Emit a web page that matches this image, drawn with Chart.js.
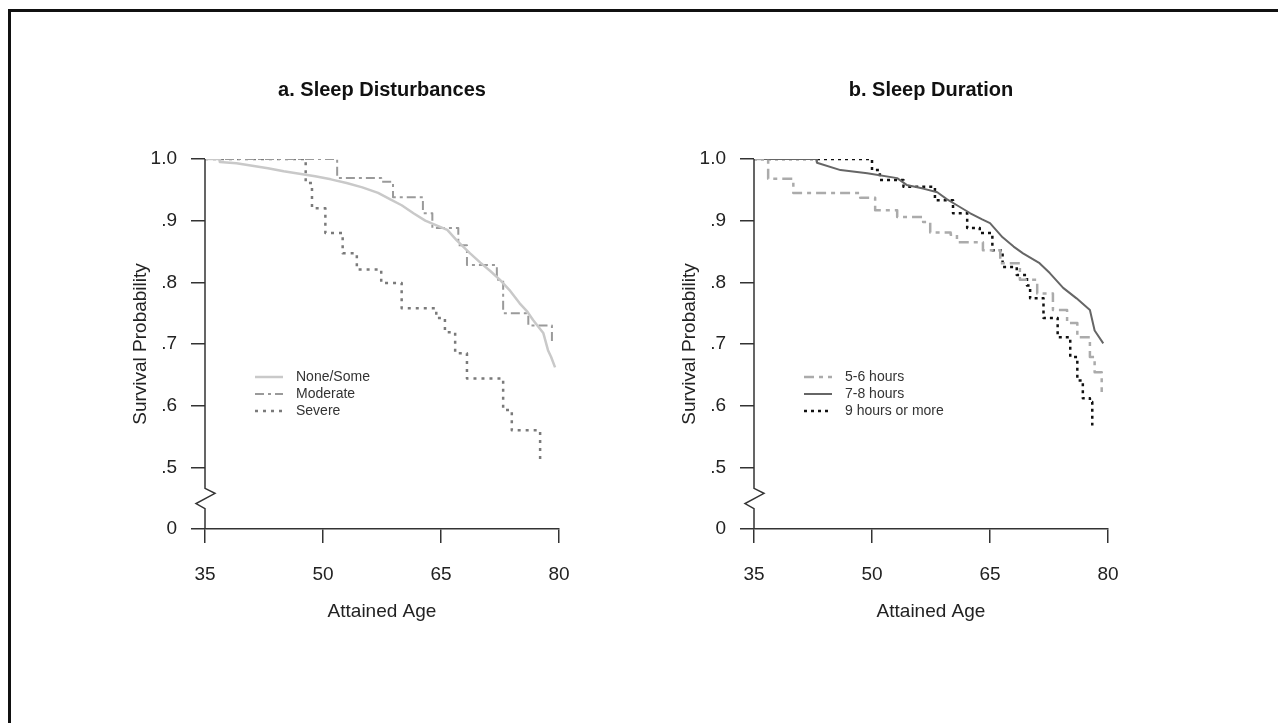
<!DOCTYPE html>
<html>
<head>
<meta charset="utf-8">
<title>Survival by sleep disturbances and sleep duration</title>
<script src="https://cdn.jsdelivr.net/npm/chart.js"></script>
<style>
  html, body { margin: 0; padding: 0; background: #fff; }
  body { width: 1278px; height: 723px; position: relative; overflow: hidden; }
  #frame { position: absolute; left: 8px; top: 9px; right: -5px; bottom: -5px;
           border-left: 3px solid #111; border-top: 3px solid #111; }
  canvas { position: absolute; top: 0; }
  #panelA { left: 0; }
  #panelB { left: 549px; }
</style>
</head>
<body>
<div id="frame"></div>
<canvas id="panelA" width="620" height="723"></canvas>
<canvas id="panelB" width="620" height="723"></canvas>
<script>
// axis ticks
const xTicks = [35, 50, 65, 80]
const yTickValues = [0.4, 0.5, 0.6, 0.7, 0.8, 0.9, 1.0]
const yTickLabels = ['0', '.5', '.6', '.7', '.8', '.9', '1.0']
// the axis is broken between .5 and 0 (0 sits where .4 would be)
const breakFrom = 0.466
const breakTo = 0.433

// a. Sleep Disturbances
const noneSomeAge = [35, 36.8, 36.9, 39, 41, 43, 45, 47, 49, 51, 53, 55, 57, 58.5, 60, 61.5, 63, 64.5, 65.8, 67, 68.7, 70, 71.3, 72.5, 73.8, 75, 76, 76.7, 78, 78.6, 79, 79.5]
const noneSomeSurv = [1.0, 1.0, 0.995, 0.993, 0.989, 0.985, 0.98, 0.976, 0.972, 0.967, 0.961, 0.954, 0.945, 0.935, 0.925, 0.912, 0.9, 0.892, 0.885, 0.868, 0.847, 0.832, 0.818, 0.804, 0.786, 0.766, 0.752, 0.739, 0.718, 0.69, 0.679, 0.662]
const moderateAge = [35, 51.8, 57.4, 58.9, 62.7, 63.9, 67.2, 68.3, 72.1, 72.9, 76.1, 79.1]
const moderateSurv = [1.0, 0.969, 0.963, 0.938, 0.912, 0.888, 0.86, 0.828, 0.804, 0.75, 0.73, 0.7]
const severeAge = [35, 47.8, 48.6, 50.3, 52.5, 54.3, 57.4, 60.0, 64.4, 65.5, 66.8, 68.3, 72.9, 74.0, 77.6]
const severeSurv = [1.0, 0.961, 0.92, 0.88, 0.847, 0.821, 0.799, 0.758, 0.742, 0.719, 0.685, 0.644, 0.593, 0.56, 0.511]

// b. Sleep Duration
const h56Age = [35, 36.8, 40.0, 48.5, 50.4, 53.2, 56.5, 57.4, 60.0, 60.8, 64.1, 66.3, 68.8, 71.0, 73.0, 74.8, 76.1, 77.7, 78.3, 79.2]
const h56Surv = [1.0, 0.968, 0.945, 0.937, 0.917, 0.906, 0.898, 0.881, 0.877, 0.865, 0.852, 0.831, 0.804, 0.782, 0.755, 0.734, 0.711, 0.679, 0.654, 0.622]
const h78Age = [35, 42.9, 43.0, 46.0, 49.4, 53.2, 54.4, 56.5, 58.3, 59.5, 60.8, 62.5, 64.0, 65.0, 66.6, 68.0, 69.2, 71.3, 72.6, 74.3, 76.0, 77.7, 78.3, 79.4]
const h78Surv = [1.0, 1.0, 0.994, 0.982, 0.977, 0.969, 0.958, 0.952, 0.946, 0.935, 0.925, 0.912, 0.902, 0.896, 0.873, 0.858, 0.847, 0.831, 0.815, 0.791, 0.774, 0.755, 0.722, 0.701]
const h9Age = [35, 50.0, 51.0, 54.0, 58.0, 60.3, 62.1, 63.7, 65.3, 66.6, 68.4, 69.7, 70.1, 71.8, 73.6, 75.2, 76.1, 76.8, 77.7, 78.0]
const h9Surv = [1.0, 0.982, 0.966, 0.955, 0.933, 0.912, 0.888, 0.88, 0.852, 0.825, 0.812, 0.795, 0.774, 0.742, 0.711, 0.679, 0.641, 0.612, 0.606, 0.568]

const axisColor = '#333'
const textColor = '#222'
Chart.defaults.font.family = "'Liberation Sans', Arial, sans-serif"
Chart.defaults.color = textColor

const pts = (ages, surv) => ages.map((a, i) => ({ x: a, y: surv[i] }))

// big groups have so many tiny steps they read as a smooth curve
const series = (label, ages, surv, color, width, dash, stepped = true) => ({
  label,
  data: pts(ages, surv),
  borderColor: color,
  borderWidth: width,
  borderDash: dash,
  borderJoinStyle: 'round',
  stepped,
  tension: 0,
  pointRadius: 0,
  fill: false,
})

// y axis line with the zigzag break
const axisBreak = {
  id: 'axisBreak',
  afterDraw(chart) {
    const { ctx, chartArea: a, scales: { y } } = chart
    const top = y.getPixelForValue(y.max)
    const bot = y.getPixelForValue(y.min)
    const b1 = y.getPixelForValue(breakFrom)
    const b2 = y.getPixelForValue(breakTo)
    const h = b2 - b1
    ctx.save()
    ctx.strokeStyle = axisColor
    ctx.lineWidth = 1.5
    ctx.beginPath()
    ctx.moveTo(a.left, top)
    ctx.lineTo(a.left, b1)
    ctx.lineTo(a.left + 10, b1 + h * 0.25)
    ctx.lineTo(a.left - 9, b1 + h * 0.75)
    ctx.lineTo(a.left, b2)
    ctx.lineTo(a.left, bot)
    ctx.stroke()
    ctx.restore()
  }
}

// legend drawn inside the plot, like the original
const innerLegend = {
  id: 'innerLegend',
  afterDraw(chart) {
    const { ctx, chartArea: a } = chart
    const left = a.left + 50
    let yy = a.top + 218
    ctx.save()
    ctx.font = "14px 'Liberation Sans', Arial, sans-serif"
    ctx.textBaseline = 'middle'
    chart.data.datasets.forEach((ds) => {
      ctx.strokeStyle = ds.borderColor
      ctx.lineWidth = ds.borderWidth
      ctx.setLineDash(ds.borderDash || [])
      ctx.beginPath()
      ctx.moveTo(left, yy)
      ctx.lineTo(left + 28, yy)
      ctx.stroke()
      ctx.setLineDash([])
      ctx.fillStyle = '#333'
      ctx.fillText(ds.label, left + 41, yy)
      yy += 17
    })
    ctx.restore()
  }
}

function makeChart(id, title, datasets) {
  return new Chart(document.getElementById(id), {
    type: 'line',
    data: { datasets },
    plugins: [axisBreak, innerLegend],
    options: {
      responsive: false,
      animation: false,
      layout: { padding: { left: 125, right: 61, top: 0, bottom: 95.6 } },
      plugins: {
        legend: { display: false },
        tooltip: { enabled: false },
        title: {
          display: true,
          text: title,
          fullSize: false,
          color: '#111',
          font: { size: 20, weight: 'bold' },
          padding: { top: 78, bottom: 57 },
        },
      },
      scales: {
        x: {
          type: 'linear',
          min: 35,
          max: 80,
          afterFit: (s) => { s.height = 98.4 },
          afterBuildTicks: (s) => { s.ticks = xTicks.map((v) => ({ value: v })) },
          border: { display: true, color: axisColor, width: 1.5 },
          grid: { drawOnChartArea: false, drawTicks: true, tickLength: 14, tickColor: axisColor, lineWidth: 1.5 },
          ticks: { font: { size: 19 }, padding: 20, color: textColor },
          title: { display: true, text: 'Attained Age', font: { size: 19 }, color: textColor },
        },
        y: {
          type: 'linear',
          min: 0.4,
          max: 1.0,
          afterFit: (s) => { s.width = 80 },
          afterBuildTicks: (s) => { s.ticks = yTickValues.map((v) => ({ value: v })) },
          border: { display: false },
          grid: { drawOnChartArea: false, drawTicks: true, tickLength: 14, tickColor: axisColor, lineWidth: 1.5 },
          ticks: {
            font: { size: 19 },
            padding: 14,
            color: textColor,
            callback: (v) => yTickLabels[yTickValues.findIndex((t) => Math.abs(t - v) < 1e-6)],
          },
          title: { display: true, text: 'Survival Probability', font: { size: 19 }, color: textColor },
        },
      },
    },
  })
}

makeChart('panelA', 'a. Sleep Disturbances', [
  series('None/Some', noneSomeAge, noneSomeSurv, '#c9c9c9', 2.5, [], false),
  series('Moderate', moderateAge, moderateSurv, '#9a9a9a', 2, [9, 4, 3, 4]),
  series('Severe', severeAge, severeSurv, '#7a7a7a', 2.5, [3, 5]),
])

makeChart('panelB', 'b. Sleep Duration', [
  series('5-6 hours', h56Age, h56Surv, '#ababab', 2.5, [10, 5, 4, 5]),
  series('7-8 hours', h78Age, h78Surv, '#666', 2, [], false),
  series('9 hours or more', h9Age, h9Surv, '#111', 2.5, [3, 4]),
])
</script>
</body>
</html>
